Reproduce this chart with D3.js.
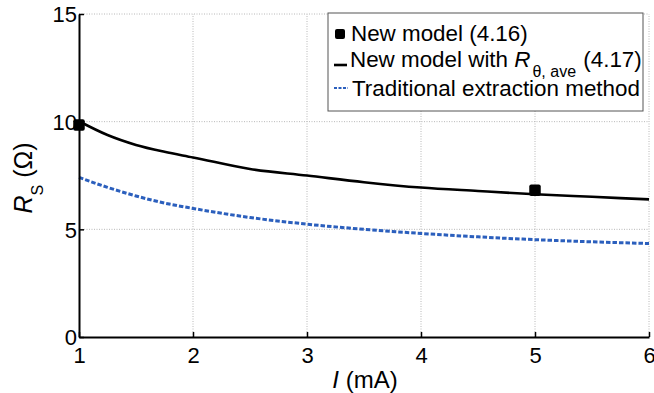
<!DOCTYPE html>
<html>
<head>
<meta charset="utf-8">
<script src="https://cdn.jsdelivr.net/npm/d3@7"></script>
<style>
  html, body { margin: 0; padding: 0; background: #fff; }
  svg { display: block; font-family: "Liberation Sans", Arial, Helvetica, sans-serif; }
</style>
</head>
<body>
<svg id="chart" width="654" height="393"></svg>
<script>
// Current I (mA) at which the curves are evaluated
const currents = [1, 1.25, 1.5, 1.75, 2, 2.5, 3, 3.5, 4, 4.5, 5, 5.5, 6];
// New model with R_theta,ave (4.17), R_S in ohms
const newModelAve = [10.02, 9.38, 8.92, 8.6, 8.34, 7.8, 7.5, 7.19, 6.94, 6.78, 6.63, 6.51, 6.39];
// Traditional extraction method, R_S in ohms
const traditional = [7.41, 6.95, 6.55, 6.22, 5.97, 5.55, 5.24, 5.0, 4.81, 4.65, 4.52, 4.42, 4.34];
// New model (4.16) discrete points
const newModelI = [1, 5];
const newModelR = [9.84, 6.82];
// Tick values
const xTicks = [1, 2, 3, 4, 5, 6];
const yTicks = [0, 5, 10, 15];

const svg = d3.select("#chart");
const x = d3.scaleLinear().domain([1, 6]).range([79, 649]);
const y = d3.scaleLinear().domain([0, 15]).range([337, 14]);

// grid
const grid = svg.append("g")
  .attr("stroke", "#b8b8b8").attr("stroke-width", 1).attr("stroke-dasharray", "1,1.5");
grid.selectAll(".gx").data(xTicks.slice(1)).join("line")
  .attr("x1", d => x(d)).attr("x2", d => x(d)).attr("y1", y(0)).attr("y2", y(15));
grid.selectAll(".gy").data(yTicks.slice(1)).join("line")
  .attr("x1", x(1)).attr("x2", x(6)).attr("y1", d => y(d)).attr("y2", d => y(d));

// curves
const line = d3.line().x(d => x(d[0])).y(d => y(d[1])).curve(d3.curveMonotoneX);
svg.append("path")
  .datum(currents.map((c, i) => [c, traditional[i]]))
  .attr("d", line)
  .attr("fill", "none").attr("stroke", "#2b5fbd").attr("stroke-width", 3)
  .attr("stroke-dasharray", "4.5,2");
svg.append("path")
  .datum(currents.map((c, i) => [c, newModelAve[i]]))
  .attr("d", line)
  .attr("fill", "none").attr("stroke", "#000").attr("stroke-width", 2.6);

// markers
const ms = 11.5;
svg.selectAll(".mk").data(newModelI.map((c, i) => [c, newModelR[i]])).join("rect")
  .attr("x", d => x(d[0]) - ms / 2).attr("y", d => y(d[1]) - ms / 2)
  .attr("width", ms).attr("height", ms).attr("rx", 2).attr("fill", "#000");

// axes
const xAxis = d3.axisBottom(x).tickValues(xTicks).tickFormat(d3.format("d"))
  .tickSizeInner(-5).tickSizeOuter(0).tickPadding(10);
const yAxis = d3.axisLeft(y).tickValues(yTicks).tickFormat(d3.format("d"))
  .tickSizeInner(-5).tickSizeOuter(0).tickPadding(2);

const gx = svg.append("g").attr("transform", `translate(0,${y(0)})`).call(xAxis);
const gy = svg.append("g").attr("transform", `translate(${x(1)},0)`).call(yAxis);
[gx, gy].forEach(g => {
  g.select(".domain").attr("stroke", "#000").attr("stroke-width", 2);
  g.selectAll(".tick line").attr("stroke", "#000").attr("stroke-width", 1.5);
  g.selectAll(".tick text").attr("fill", "#000").attr("font-size", 22)
    .attr("font-family", "Liberation Sans, Arial, sans-serif");
});
gy.selectAll(".tick text").attr("dy", "0.36em");
gx.selectAll(".tick text").attr("dy", "0.71em");

// axis titles
const xt = svg.append("text").attr("x", 365).attr("y", 388)
  .attr("text-anchor", "middle").attr("font-size", 24).attr("fill", "#000");
xt.append("tspan").attr("font-style", "italic").text("I");
xt.append("tspan").text(" (mA)");

const yt = svg.append("text")
  .attr("transform", "translate(32,178) rotate(-90)")
  .attr("text-anchor", "middle").attr("font-size", 25).attr("fill", "#000");
yt.append("tspan").attr("font-style", "italic").text("R");
yt.append("tspan").attr("font-size", 16).attr("dy", 11).text("S");
yt.append("tspan").attr("dy", -11).text(" (Ω)");

// legend
const lg = svg.append("g");
lg.append("rect").attr("x", 328).attr("y", 13).attr("width", 315).attr("height", 98)
  .attr("fill", "#fff").attr("stroke", "#555").attr("stroke-width", 1);
lg.append("rect").attr("x", 335).attr("y", 29).attr("width", 10).attr("height", 10)
  .attr("rx", 2).attr("fill", "#000");
lg.append("line").attr("x1", 334).attr("x2", 347).attr("y1", 65).attr("y2", 65)
  .attr("stroke", "#000").attr("stroke-width", 2.6);
lg.append("line").attr("x1", 334).attr("x2", 348).attr("y1", 88).attr("y2", 88)
  .attr("stroke", "#2b5fbd").attr("stroke-width", 2.2).attr("stroke-dasharray", "3,1.5");

const lt = lg.append("g").attr("font-size", 22.4).attr("fill", "#000");
lt.append("text").attr("x", 351).attr("y", 41).text("New model (4.16)");
const l2 = lt.append("text").attr("x", 350).attr("y", 67);
l2.append("tspan").text("New model with ");
l2.append("tspan").attr("font-style", "italic").text("R");
l2.append("tspan").attr("font-size", 16).attr("dy", 10).attr("dx", 2).text("θ, ave");
l2.append("tspan").attr("dy", -10).attr("dx", 1).text(" (4.17)");
lt.append("text").attr("x", 352).attr("y", 96).text("Traditional extraction method");
</script>
</body>
</html>
